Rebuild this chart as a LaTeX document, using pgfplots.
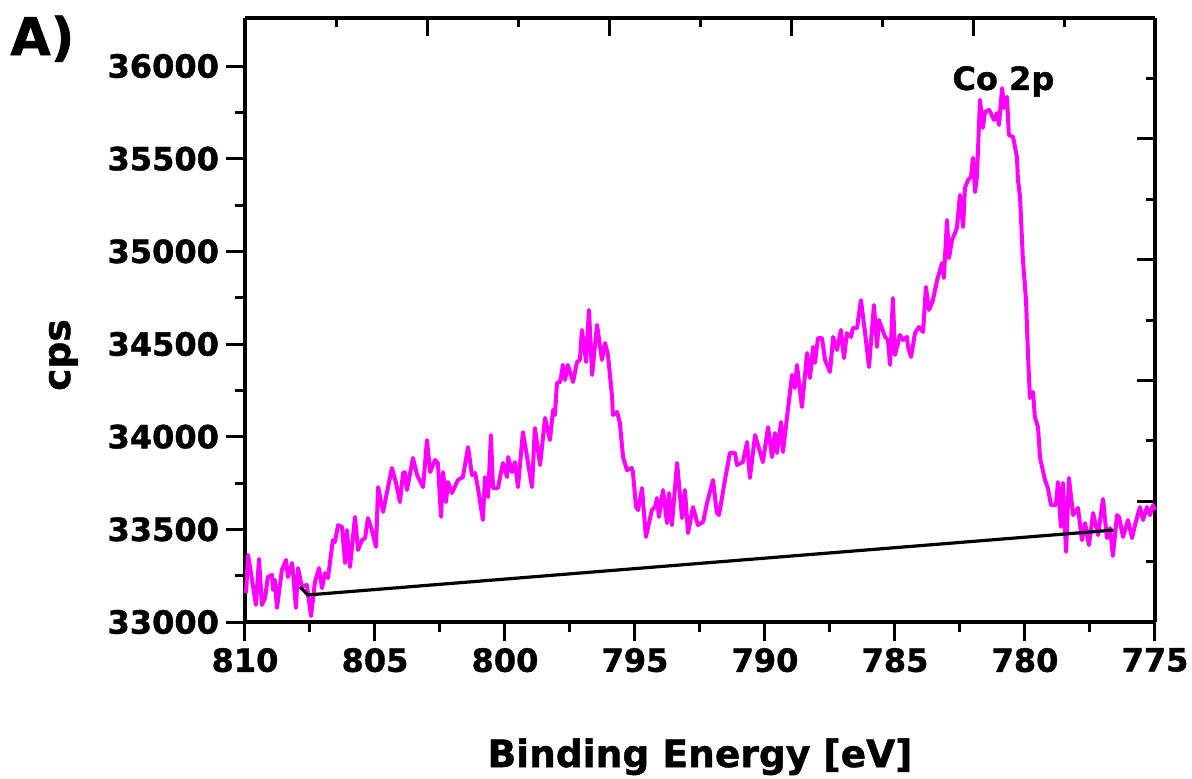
\documentclass[border=0pt]{standalone}
\usepackage{fontspec}
\setmainfont{DejaVu Sans}[BoldFeatures={FakeBold=1.2}]
\usepackage{pgfplots}
\pgfplotsset{compat=1.18}
\definecolor{mag}{RGB}{255,0,255}
\begin{document}
\begin{tikzpicture}
\useasboundingbox (-122.5pt,-78pt) rectangle (473.5pt,311pt);
\begin{axis}[
 at={(0,0)}, anchor=south west,
 width=455pt, height=302pt, scale only axis,
 xmin=0, xmax=1, ymin=0, ymax=1,
 axis x line*=top, axis y line*=right,
 axis line style={line width=1.6pt, black},
 xtick={0,0.2,0.4,0.6,0.8,1}, ytick={0,0.2,0.4,0.6,0.8,1},
 minor x tick num=1, minor y tick num=1,
 tick align=inside,
 major tick length=9pt, minor tick length=4.5pt,
 tick style={black, line width=1.5pt},
 xticklabels={}, yticklabels={},
]
\addplot[draw=none] coordinates {(0,0) (1,1)};
\end{axis}
\begin{axis}[
 at={(0,0)}, anchor=south west,
 width=455pt, height=302pt, scale only axis,
 xmin=775, xmax=810, x dir=reverse,
 ymin=33000, ymax=36259,
 clip=false,
 axis x line*=bottom, axis y line*=left,
 axis line style={line width=1.6pt, black},
 xtick={775,780,...,810},
 ytick={33000,33500,...,36000},
 minor x tick num=1, minor y tick num=1,
 tick align=outside,
 major tick length=9.5pt, minor tick length=5pt,
 tick style={black, line width=1.5pt},
 scaled y ticks=false, scaled x ticks=false,
 /pgf/number format/1000 sep={},
 /pgf/number format/assume math mode=true,
 tick label style={font=\bfseries\fontsize{16}{16}\selectfont},
 xlabel={Binding Energy [eV]}, ylabel={cps},
 label style={font=\bfseries\fontsize{18.8}{18.8}\selectfont},
 xlabel style={at={(axis description cs:0.5,-0.2401)}, anchor=base},
 ylabel style={at={(axis description cs:-0.1923,0.442)}, anchor=base},
]
\addplot[mag, line width=2pt, line join=round] coordinates {
(809.96,33156) (809.88,33362) (809.58,33092) (809.46,33340) (809.35,33092) (809.23,33129) (809.12,33243) (808.96,33254) (808.92,33173) (808.85,33227) (808.77,33076) (808.58,33281) (808.42,33335) (808.35,33243) (808.19,33318) (808.15,33264) (808.04,33076) (807.96,33291) (807.81,33189) (807.62,33200) (807.46,33032) (807.31,33216) (807.15,33291) (807.04,33183) (806.92,33264) (806.81,33237) (806.62,33442) (806.54,33432) (806.42,33523) (806.27,33513) (806.15,33318) (806.08,33496) (805.96,33297) (805.77,33567) (805.65,33389) (805.50,33442) (805.38,33453) (805.27,33561) (805.12,33496) (804.96,33405) (804.88,33728) (804.69,33594) (804.35,33831) (804.19,33750) (804.04,33647) (803.92,33804) (803.85,33809) (803.77,33712) (803.54,33885) (803.38,33793) (803.15,33728) (803.00,33982) (802.88,33809) (802.69,33874) (802.58,33858) (802.46,33567) (802.38,33809) (802.27,33647) (802.19,33755) (802.04,33696) (801.81,33766) (801.62,33782) (801.42,33944) (801.27,33793) (801.15,33804) (801.04,33723) (800.85,33550) (800.77,33782) (800.65,33674) (800.54,34009) (800.46,33723) (800.27,33723) (800.08,33858) (799.92,33782) (799.88,33890) (799.73,33809) (799.62,33863) (799.50,33728) (799.31,34025) (798.96,33728) (798.85,34047) (798.65,33847) (798.46,34101) (798.27,33982) (798.15,34144) (798.08,34117) (798.00,34290) (797.88,34295) (797.77,34387) (797.69,34306) (797.58,34387) (797.38,34295) (797.23,34403) (797.12,34414) (797.04,34576) (796.88,34403) (796.77,34684) (796.65,34333) (796.46,34603) (796.27,34414) (796.15,34505) (796.04,34441) (795.88,34214) (795.85,34117) (795.69,34133) (795.58,34074) (795.46,33890) (795.31,33820) (795.12,33831) (795.08,33809) (794.96,33620) (794.88,33604) (794.73,33723) (794.58,33459) (794.35,33604) (794.23,33620) (794.15,33669) (794.08,33567) (793.92,33712) (793.77,33534) (793.69,33696) (793.58,33523) (793.38,33858) (793.19,33561) (793.08,33712) (792.96,33480) (792.77,33620) (792.58,33523) (792.38,33540) (792.23,33642) (792.00,33766) (791.85,33588) (791.77,33577) (791.65,33674) (791.54,33766) (791.35,33912) (791.15,33912) (791.08,33847) (790.85,33863) (790.69,33971) (790.58,33777) (790.38,34009) (790.08,33863) (789.88,34052) (789.73,33890) (789.62,34020) (789.54,33912) (789.38,34079) (789.31,33917) (789.12,34144) (788.96,34333) (788.85,34263) (788.77,34387) (788.58,34160) (788.38,34451) (788.27,34317) (788.15,34484) (788.08,34398) (787.96,34532) (787.81,34532) (787.69,34414) (787.50,34349) (787.38,34538) (787.23,34468) (787.08,34576) (786.96,34424) (786.85,34559) (786.69,34538) (786.62,34586) (786.46,34586) (786.31,34737) (786.15,34559) (786.00,34376) (785.81,34710) (785.69,34484) (785.62,34630) (785.38,34538) (785.27,34522) (785.19,34387) (785.08,34748) (785.00,34441) (784.81,34549) (784.69,34522) (784.54,34538) (784.50,34484) (784.38,34430) (784.23,34559) (784.08,34592) (783.92,34565) (783.81,34808) (783.69,34684) (783.54,34737) (783.38,34845) (783.19,34937) (783.12,34856) (783.00,35169) (782.92,34964) (782.81,35061) (782.69,35099) (782.62,35126) (782.50,35304) (782.38,35131) (782.31,35342) (782.19,35385) (782.08,35401) (782.00,35504) (781.92,35320) (781.85,35401) (781.73,35817) (781.62,35666) (781.54,35752) (781.38,35763) (781.19,35709) (781.08,35746) (781.00,35682) (780.88,35881) (780.81,35773) (780.69,35833) (780.62,35628) (780.46,35617) (780.31,35509) (780.27,35385) (780.19,35293) (780.08,34953) (779.96,34737) (779.88,34430) (779.81,34209) (779.69,34241) (779.62,34106) (779.50,34052) (779.42,33885) (779.23,33766) (779.12,33723) (779.00,33631) (778.81,33631) (778.73,33755) (778.62,33513) (778.54,33750) (778.42,33378) (778.31,33777) (778.15,33577) (777.96,33615) (777.81,33442) (777.69,33534) (777.54,33415) (777.38,33588) (777.19,33469) (777.00,33664) (776.85,33453) (776.73,33507) (776.62,33356) (776.46,33577) (776.38,33567) (776.23,33459) (776.04,33550) (775.88,33453) (775.77,33523) (775.58,33620) (775.46,33550) (775.31,33620) (775.19,33577) (775.08,33631) (775.00,33604)
};
\addplot[black, line width=1.6pt] coordinates {(807.88,33189) (807.58,33146) (776.6,33496)};
\node[anchor=base, inner sep=0pt, font=\bfseries\fontsize{16}{16}\selectfont] at (axis cs:780.83,35871) {Co 2p};
\node[anchor=base west, inner sep=0pt, font=\bfseries\fontsize{26}{26}\selectfont] at (axis description cs:-0.2582,0.9387) {A)};
\end{axis}
\end{tikzpicture}
\end{document}
